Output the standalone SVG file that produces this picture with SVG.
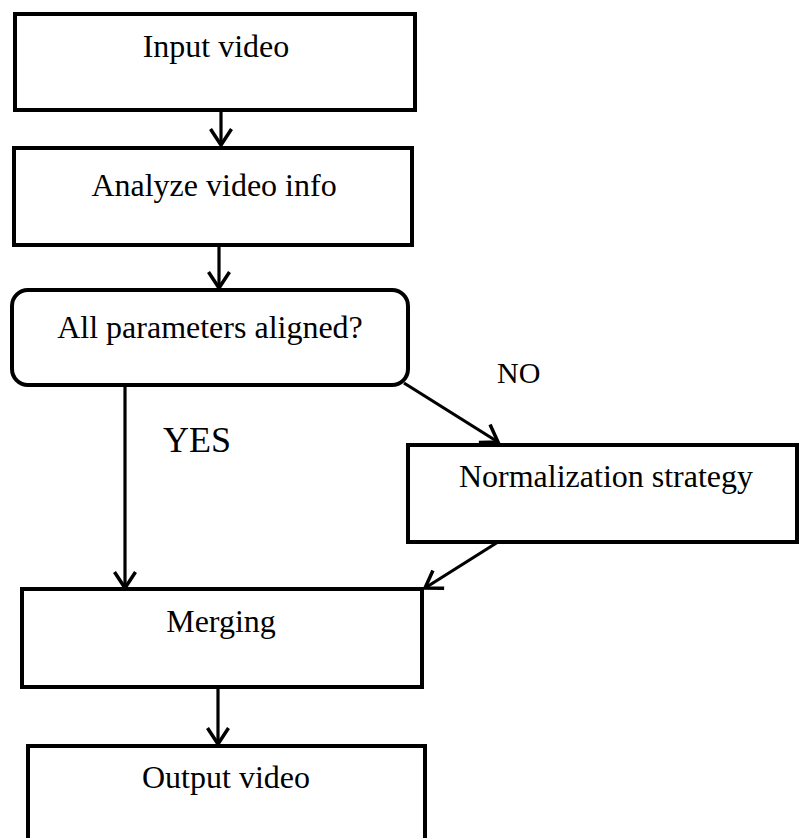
<svg xmlns="http://www.w3.org/2000/svg" width="800" height="838" viewBox="0 0 800 838">
  <style>
    .box { fill: #ffffff; stroke: #000000; stroke-width: 4; }
    .lbl { font-family: "Liberation Serif", "Times New Roman", serif; font-size: 32px; fill: #000000; text-anchor: middle; }
    .edge { stroke: #000000; stroke-width: 3.2; fill: none; }
    .tag { font-family: "Liberation Serif", "Times New Roman", serif; fill: #000000; }
  </style>
  <defs>
    <marker id="arrow" markerUnits="userSpaceOnUse" markerWidth="26" markerHeight="26" viewBox="-20 -13 22 26" refX="0" refY="0" orient="auto">
      <path d="M-16,-10.5 L0,0 L-16,10.5" fill="none" stroke="#000000" stroke-width="3.5" stroke-linejoin="miter"/>
    </marker>
  </defs>

  <rect width="800" height="838" fill="#ffffff"/>

  <g id="input-video">
    <rect class="box" x="15" y="14" width="400" height="96"/>
    <text class="lbl" x="216" y="57">Input video</text>
  </g>

  <g id="analyze-video-info">
    <rect class="box" x="14" y="148" width="398" height="97"/>
    <text class="lbl" x="214" y="196">Analyze video info</text>
  </g>

  <g id="params-aligned">
    <rect class="box" x="12" y="290" width="396" height="95" rx="16" ry="16"/>
    <text class="lbl" x="210" y="338">All parameters aligned?</text>
  </g>

  <g id="normalization-strategy">
    <rect class="box" x="408" y="445" width="389" height="97"/>
    <text class="lbl" x="606" y="487">Normalization strategy</text>
  </g>

  <g id="merging">
    <rect class="box" x="22" y="589" width="400" height="98"/>
    <text class="lbl" x="221" y="632">Merging</text>
  </g>

  <g id="output-video">
    <rect class="box" x="28" y="746" width="397" height="100"/>
    <text class="lbl" x="226" y="788">Output video</text>
  </g>

  <g id="connectors">
    <line class="edge" x1="221" y1="110" x2="221" y2="145" marker-end="url(#arrow)"/>
    <line class="edge" x1="219" y1="245" x2="219" y2="288" marker-end="url(#arrow)"/>
    <line class="edge" x1="125" y1="385" x2="125" y2="588" marker-end="url(#arrow)"/>
    <line class="edge" x1="404" y1="383" x2="498" y2="442" marker-end="url(#arrow)"/>
    <line class="edge" x1="498" y1="542" x2="425" y2="588" marker-end="url(#arrow)"/>
    <line class="edge" x1="218" y1="687" x2="218" y2="744" marker-end="url(#arrow)"/>
    <text class="tag" x="163" y="452" font-size="36">YES</text>
    <text class="tag" x="497" y="383" font-size="30">NO</text>
  </g>
</svg>
